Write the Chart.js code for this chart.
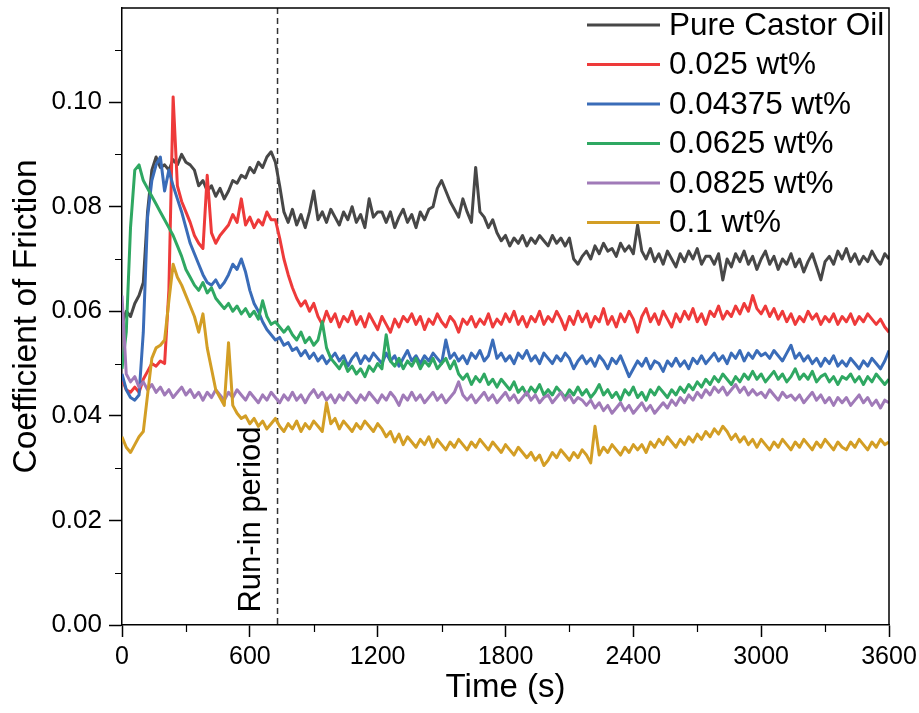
<!DOCTYPE html>
<html>
<head>
<meta charset="utf-8">
<script src="https://cdn.jsdelivr.net/npm/chart.js@4.4.1/dist/chart.umd.min.js"></script>
<style>
  html, body { margin: 0; padding: 0; background: #ffffff; }
  canvas { display: block; }
</style>
</head>
<body>
<canvas id="cof" width="919" height="713"></canvas>
<script>
// Coefficient of friction recorded every 20 s over a 3600 s test.
const sampleStep = 20;

const seriesLabels = ['Pure Castor Oil', '0.025 wt%', '0.04375 wt%', '0.0625 wt%', '0.0825 wt%', '0.1 wt%'];

const pureCastorOil = [
  0.0575, 0.0600, 0.0590, 0.0615, 0.0630, 0.0655, 0.0790, 0.0870, 0.0895, 0.0875,
  0.0880, 0.0870, 0.0890, 0.0880, 0.0900, 0.0885, 0.0880, 0.0870, 0.0840, 0.0850,
  0.0830, 0.0840, 0.0820, 0.0835, 0.0815, 0.0830, 0.0850, 0.0845, 0.0860, 0.0855,
  0.0875, 0.0865, 0.0885, 0.0875, 0.0895, 0.0905, 0.0885, 0.0840, 0.0790, 0.0770,
  0.0795, 0.0765, 0.0785, 0.0760, 0.0790, 0.0830, 0.0775, 0.0790, 0.0770, 0.0795,
  0.0780, 0.0765, 0.0790, 0.0775, 0.0800, 0.0770, 0.0785, 0.0760, 0.0815, 0.0780,
  0.0790, 0.0790, 0.0770, 0.0790, 0.0760, 0.0780, 0.0795, 0.0770, 0.0785, 0.0760,
  0.0790, 0.0775, 0.0795, 0.0800, 0.0835, 0.0850, 0.0830, 0.0810, 0.0795, 0.0780,
  0.0815, 0.0790, 0.0770, 0.0875, 0.0790, 0.0780, 0.0760, 0.0775, 0.0750, 0.0735,
  0.0745, 0.0725, 0.0740, 0.0730, 0.0745, 0.0725, 0.0740, 0.0730, 0.0745, 0.0735,
  0.0725, 0.0745, 0.0730, 0.0740, 0.0725, 0.0740, 0.0700, 0.0690, 0.0705, 0.0715,
  0.0700, 0.0725, 0.0710, 0.0730, 0.0715, 0.0720, 0.0705, 0.0730, 0.0715, 0.0725,
  0.0710, 0.0765, 0.0715, 0.0700, 0.0720, 0.0695, 0.0710, 0.0690, 0.0715, 0.0700,
  0.0685, 0.0710, 0.0695, 0.0715, 0.0700, 0.0720, 0.0690, 0.0705, 0.0705, 0.0690,
  0.0710, 0.0660, 0.0700, 0.0685, 0.0710, 0.0695, 0.0715, 0.0690, 0.0705, 0.0680,
  0.0700, 0.0715, 0.0690, 0.0705, 0.0680, 0.0700, 0.0690, 0.0710, 0.0685, 0.0700,
  0.0675, 0.0695, 0.0710, 0.0685, 0.0660, 0.0695, 0.0705, 0.0690, 0.0715, 0.0700,
  0.0720, 0.0695, 0.0710, 0.0690, 0.0705, 0.0695, 0.0715, 0.0700, 0.0690, 0.0710,
  0.0700
];

const wt0025 = [
  0.0470, 0.0450, 0.0445, 0.0455, 0.0445, 0.0470, 0.0485, 0.0500, 0.0495, 0.0505,
  0.0500, 0.0640, 0.1010, 0.0840, 0.0810, 0.0790, 0.0770, 0.0745, 0.0730, 0.0720,
  0.0860, 0.0750, 0.0730, 0.0745, 0.0755, 0.0765, 0.0785, 0.0770, 0.0815, 0.0765,
  0.0780, 0.0760, 0.0775, 0.0765, 0.0790, 0.0775, 0.0775, 0.0740, 0.0700, 0.0670,
  0.0645, 0.0625, 0.0610, 0.0620, 0.0600, 0.0615, 0.0590, 0.0575, 0.0600, 0.0580,
  0.0595, 0.0570, 0.0590, 0.0580, 0.0600, 0.0575, 0.0590, 0.0570, 0.0595, 0.0580,
  0.0565, 0.0590, 0.0575, 0.0560, 0.0585, 0.0570, 0.0590, 0.0580, 0.0595, 0.0575,
  0.0590, 0.0565, 0.0585, 0.0575, 0.0595, 0.0580, 0.0570, 0.0590, 0.0580, 0.0560,
  0.0585, 0.0575, 0.0590, 0.0570, 0.0585, 0.0575, 0.0595, 0.0570, 0.0585, 0.0575,
  0.0595, 0.0580, 0.0600, 0.0575, 0.0590, 0.0570, 0.0590, 0.0580, 0.0600, 0.0575,
  0.0590, 0.0580, 0.0600, 0.0585, 0.0565, 0.0590, 0.0575, 0.0600, 0.0580, 0.0595,
  0.0570, 0.0590, 0.0580, 0.0605, 0.0575, 0.0590, 0.0570, 0.0595, 0.0580, 0.0600,
  0.0585, 0.0560, 0.0590, 0.0605, 0.0580, 0.0595, 0.0575, 0.0600, 0.0585, 0.0570,
  0.0595, 0.0580, 0.0600, 0.0585, 0.0605, 0.0580, 0.0595, 0.0575, 0.0600, 0.0590,
  0.0610, 0.0585, 0.0600, 0.0590, 0.0610, 0.0595, 0.0615, 0.0600, 0.0630, 0.0605,
  0.0595, 0.0610, 0.0590, 0.0605, 0.0585, 0.0600, 0.0580, 0.0595, 0.0575, 0.0590,
  0.0580, 0.0600, 0.0585, 0.0595, 0.0575, 0.0590, 0.0580, 0.0595, 0.0575, 0.0590,
  0.0580, 0.0595, 0.0575, 0.0590, 0.0580, 0.0595, 0.0585, 0.0575, 0.0585, 0.0570,
  0.0560
];

const wt004375 = [
  0.0480, 0.0450, 0.0435, 0.0430, 0.0440, 0.0560, 0.0780, 0.0850, 0.0880, 0.0895,
  0.0830, 0.0870, 0.0840, 0.0815, 0.0790, 0.0760, 0.0730, 0.0710, 0.0690, 0.0670,
  0.0655, 0.0650, 0.0660, 0.0645, 0.0655, 0.0670, 0.0690, 0.0680, 0.0700, 0.0675,
  0.0640, 0.0615, 0.0600, 0.0580, 0.0565, 0.0555, 0.0545, 0.0550, 0.0535, 0.0540,
  0.0525, 0.0530, 0.0515, 0.0525, 0.0510, 0.0520, 0.0505, 0.0515, 0.0500, 0.0510,
  0.0520, 0.0505, 0.0515, 0.0495, 0.0510, 0.0520, 0.0500, 0.0515, 0.0505, 0.0520,
  0.0510, 0.0500, 0.0520, 0.0505, 0.0515, 0.0495, 0.0510, 0.0525, 0.0505, 0.0515,
  0.0500, 0.0515, 0.0505, 0.0520, 0.0510, 0.0500, 0.0545, 0.0510, 0.0520, 0.0505,
  0.0515, 0.0500, 0.0520, 0.0510, 0.0525, 0.0505, 0.0515, 0.0545, 0.0510, 0.0520,
  0.0505, 0.0515, 0.0500, 0.0520, 0.0510, 0.0525, 0.0505, 0.0515, 0.0500, 0.0520,
  0.0510, 0.0500, 0.0515, 0.0505, 0.0520, 0.0510, 0.0490, 0.0505, 0.0515, 0.0500,
  0.0510, 0.0495, 0.0515, 0.0505, 0.0490, 0.0510, 0.0500, 0.0515, 0.0495, 0.0475,
  0.0490, 0.0505, 0.0495, 0.0510, 0.0490, 0.0505, 0.0500, 0.0485, 0.0505, 0.0495,
  0.0510, 0.0495, 0.0505, 0.0490, 0.0510, 0.0500, 0.0515, 0.0500, 0.0510, 0.0520,
  0.0505, 0.0515, 0.0500, 0.0520, 0.0510, 0.0525, 0.0505, 0.0520, 0.0510, 0.0525,
  0.0515, 0.0520, 0.0510, 0.0525, 0.0515, 0.0505, 0.0520, 0.0535, 0.0510, 0.0520,
  0.0505, 0.0515, 0.0500, 0.0510, 0.0495, 0.0510, 0.0500, 0.0515, 0.0495, 0.0505,
  0.0495, 0.0510, 0.0500, 0.0490, 0.0505, 0.0495, 0.0510, 0.0500, 0.0490, 0.0505,
  0.0525
];

const wt00625 = [
  0.0490, 0.0560, 0.0760, 0.0870, 0.0880, 0.0850, 0.0835, 0.0820, 0.0805, 0.0790,
  0.0775, 0.0760, 0.0745, 0.0725, 0.0705, 0.0680, 0.0665, 0.0650, 0.0640, 0.0655,
  0.0635, 0.0645, 0.0625, 0.0615, 0.0605, 0.0615, 0.0600, 0.0610, 0.0595, 0.0605,
  0.0590, 0.0600, 0.0585, 0.0620, 0.0590, 0.0575, 0.0580, 0.0570, 0.0560, 0.0570,
  0.0555, 0.0545, 0.0560, 0.0540, 0.0550, 0.0535, 0.0545, 0.0580, 0.0530, 0.0510,
  0.0500, 0.0490, 0.0505, 0.0485, 0.0495, 0.0480, 0.0490, 0.0475, 0.0495, 0.0485,
  0.0500, 0.0490, 0.0555, 0.0505, 0.0495, 0.0510, 0.0490, 0.0505, 0.0495, 0.0510,
  0.0490, 0.0505, 0.0495, 0.0510, 0.0490, 0.0500, 0.0510, 0.0490, 0.0505, 0.0480,
  0.0470, 0.0480, 0.0460, 0.0475, 0.0465, 0.0480, 0.0460, 0.0470, 0.0455, 0.0470,
  0.0460, 0.0450, 0.0465, 0.0445, 0.0455, 0.0440, 0.0455, 0.0445, 0.0460, 0.0440,
  0.0450, 0.0440, 0.0455, 0.0445, 0.0435, 0.0450, 0.0440, 0.0455, 0.0440, 0.0450,
  0.0435, 0.0445, 0.0460, 0.0440, 0.0450, 0.0435, 0.0445, 0.0430, 0.0450, 0.0440,
  0.0455, 0.0435, 0.0445, 0.0430, 0.0450, 0.0440, 0.0455, 0.0445, 0.0435, 0.0450,
  0.0440, 0.0455, 0.0445, 0.0460, 0.0450, 0.0465, 0.0455, 0.0470, 0.0460, 0.0475,
  0.0465, 0.0480, 0.0470, 0.0460, 0.0475, 0.0465, 0.0480, 0.0470, 0.0485, 0.0470,
  0.0480, 0.0465, 0.0475, 0.0485, 0.0470, 0.0480, 0.0465, 0.0475, 0.0490, 0.0470,
  0.0480, 0.0470, 0.0485, 0.0465, 0.0475, 0.0480, 0.0465, 0.0475, 0.0460, 0.0475,
  0.0470, 0.0480, 0.0465, 0.0475, 0.0460, 0.0475, 0.0465, 0.0480, 0.0470, 0.0460,
  0.0470
];

const wt00825 = [
  0.0630, 0.0480, 0.0465, 0.0475, 0.0455, 0.0465, 0.0450, 0.0460, 0.0445, 0.0455,
  0.0440, 0.0450, 0.0435, 0.0445, 0.0455, 0.0440, 0.0450, 0.0435, 0.0445, 0.0430,
  0.0445, 0.0435, 0.0450, 0.0440, 0.0430, 0.0445, 0.0435, 0.0450, 0.0440, 0.0430,
  0.0445, 0.0435, 0.0425, 0.0440, 0.0430, 0.0445, 0.0435, 0.0425, 0.0440, 0.0430,
  0.0445, 0.0430, 0.0440, 0.0425, 0.0440, 0.0450, 0.0435, 0.0445, 0.0430, 0.0440,
  0.0425, 0.0440, 0.0430, 0.0445, 0.0435, 0.0425, 0.0440, 0.0430, 0.0445, 0.0435,
  0.0425, 0.0440, 0.0430, 0.0445, 0.0435, 0.0420, 0.0440, 0.0430, 0.0445, 0.0430,
  0.0440, 0.0425, 0.0435, 0.0445, 0.0430, 0.0440, 0.0425, 0.0435, 0.0445, 0.0465,
  0.0440, 0.0430, 0.0440, 0.0425, 0.0435, 0.0445, 0.0430, 0.0440, 0.0425, 0.0435,
  0.0445, 0.0430, 0.0440, 0.0425, 0.0435, 0.0445, 0.0430, 0.0440, 0.0425, 0.0435,
  0.0440, 0.0425, 0.0435, 0.0445, 0.0430, 0.0440, 0.0425, 0.0435, 0.0430, 0.0420,
  0.0430, 0.0415, 0.0425, 0.0410, 0.0420, 0.0405, 0.0415, 0.0425, 0.0410, 0.0420,
  0.0405, 0.0415, 0.0425, 0.0410, 0.0420, 0.0405, 0.0415, 0.0425, 0.0415, 0.0430,
  0.0420, 0.0435, 0.0425, 0.0440, 0.0430, 0.0445, 0.0435, 0.0450, 0.0440, 0.0455,
  0.0445, 0.0455, 0.0440, 0.0450, 0.0460, 0.0445, 0.0455, 0.0440, 0.0450, 0.0440,
  0.0445, 0.0435, 0.0450, 0.0440, 0.0430, 0.0445, 0.0435, 0.0440, 0.0430, 0.0440,
  0.0425, 0.0435, 0.0445, 0.0430, 0.0440, 0.0425, 0.0435, 0.0420, 0.0435, 0.0425,
  0.0435, 0.0420, 0.0430, 0.0440, 0.0425, 0.0435, 0.0420, 0.0430, 0.0415, 0.0430,
  0.0425
];

const wt01 = [
  0.0360, 0.0340, 0.0330, 0.0345, 0.0360, 0.0370, 0.0440, 0.0510, 0.0530, 0.0535,
  0.0545, 0.0620, 0.0690, 0.0665, 0.0650, 0.0630, 0.0610, 0.0590, 0.0560, 0.0595,
  0.0530, 0.0490, 0.0450, 0.0435, 0.0420, 0.0540, 0.0420, 0.0405, 0.0395, 0.0400,
  0.0385, 0.0395, 0.0380, 0.0390, 0.0375, 0.0385, 0.0395, 0.0380, 0.0370, 0.0385,
  0.0375, 0.0390, 0.0370, 0.0385, 0.0375, 0.0390, 0.0380, 0.0370, 0.0425, 0.0385,
  0.0395, 0.0375, 0.0390, 0.0380, 0.0370, 0.0385, 0.0375, 0.0390, 0.0380, 0.0370,
  0.0385, 0.0375, 0.0360, 0.0370, 0.0350, 0.0365, 0.0345, 0.0360, 0.0350, 0.0340,
  0.0355, 0.0345, 0.0360, 0.0340, 0.0355, 0.0345, 0.0335, 0.0350, 0.0340, 0.0355,
  0.0345, 0.0335, 0.0350, 0.0340, 0.0355, 0.0345, 0.0335, 0.0350, 0.0340, 0.0330,
  0.0345, 0.0335, 0.0325, 0.0340, 0.0330, 0.0320, 0.0330, 0.0315, 0.0325, 0.0305,
  0.0315, 0.0330, 0.0320, 0.0335, 0.0325, 0.0315, 0.0330, 0.0320, 0.0335, 0.0325,
  0.0310, 0.0380, 0.0325, 0.0340, 0.0330, 0.0345, 0.0335, 0.0325, 0.0340, 0.0330,
  0.0345, 0.0335, 0.0345, 0.0330, 0.0350, 0.0340, 0.0355, 0.0345, 0.0360, 0.0350,
  0.0340, 0.0355, 0.0345, 0.0360, 0.0350, 0.0365, 0.0355, 0.0370, 0.0360, 0.0375,
  0.0365, 0.0380, 0.0370, 0.0355, 0.0365, 0.0350, 0.0360, 0.0345, 0.0355, 0.0340,
  0.0355, 0.0345, 0.0335, 0.0350, 0.0340, 0.0355, 0.0345, 0.0335, 0.0350, 0.0340,
  0.0355, 0.0345, 0.0335, 0.0350, 0.0340, 0.0355, 0.0345, 0.0335, 0.0350, 0.0340,
  0.0335, 0.0350, 0.0340, 0.0355, 0.0345, 0.0335, 0.0350, 0.0340, 0.0355, 0.0345,
  0.0350
];

const xTickValues = [0, 600, 1200, 1800, 2400, 3000, 3600];
const xMinorValues = [300, 900, 1500, 2100, 2700, 3300];
const yTickValues = [0, 0.02, 0.04, 0.06, 0.08, 0.10];
const yMinorValues = [0.01, 0.03, 0.05, 0.07, 0.09, 0.11];
const runInEnd = 730; // s, end of the run-in period

const seriesValues = [pureCastorOil, wt0025, wt004375, wt00625, wt00825, wt01];
const seriesColors = ['#474747', '#ee3a3a', '#3a6cb8', '#2fa862', '#a07ab8', '#d39e25'];
const timeSec = pureCastorOil.map((_, i) => i * sampleStep);

const FONT = "'Liberation Sans', Arial, Helvetica, sans-serif";

const datasets = seriesValues.map((vals, k) => ({
  label: seriesLabels[k],
  data: vals.map((v, i) => ({ x: timeSec[i], y: v })),
  borderColor: seriesColors[k],
  backgroundColor: seriesColors[k],
  borderWidth: 3,
  borderJoinStyle: 'round',
  pointRadius: 0,
  tension: 0,
  fill: false,
  order: seriesValues.length - 1 - k
}));

// Frame, minor ticks, run-in marker and the legend
const decorations = {
  id: 'decorations',
  beforeDatasetsDraw(chart) {
    const { ctx, chartArea: a, scales } = chart;
    const x = scales.x.getPixelForValue(runInEnd);
    ctx.save();
    ctx.strokeStyle = '#333333';
    ctx.lineWidth = 1.5;
    ctx.setLineDash([6, 4]);
    ctx.beginPath();
    ctx.moveTo(x, a.top);
    ctx.lineTo(x, a.bottom);
    ctx.stroke();
    ctx.setLineDash([]);
    ctx.translate(x - 26, (a.top + a.bottom) / 2 + 203);
    ctx.rotate(-Math.PI / 2);
    ctx.fillStyle = '#000';
    ctx.font = '31px ' + FONT;
    ctx.textAlign = 'center';
    ctx.textBaseline = 'middle';
    ctx.fillText('Run-in period', 0, 0);
    ctx.restore();
  },
  afterDatasetsDraw(chart) {
    const { ctx, chartArea: a, scales } = chart;
    ctx.save();
    ctx.strokeStyle = '#000';
    ctx.lineWidth = 1.5;
    ctx.beginPath();
    ctx.moveTo(a.left, a.top);
    ctx.lineTo(a.right, a.top);
    ctx.lineTo(a.right, a.bottom);
    ctx.stroke();
    ctx.lineWidth = 1.2;
    ctx.beginPath();
    yMinorValues.forEach(v => {
      const y = Math.round(scales.y.getPixelForValue(v)) + 0.5;
      ctx.moveTo(a.left - 7, y);
      ctx.lineTo(a.left, y);
    });
    xMinorValues.forEach(v => {
      const x = Math.round(scales.x.getPixelForValue(v)) + 0.5;
      ctx.moveTo(x, a.bottom);
      ctx.lineTo(x, a.bottom + 7);
    });
    ctx.stroke();

    // legend
    ctx.font = '31.5px ' + FONT;
    ctx.textAlign = 'left';
    ctx.textBaseline = 'middle';
    chart.data.datasets.forEach((ds, k) => {
      const y = a.top + 17 + k * 39.5;
      const x0 = a.right - 302;
      ctx.strokeStyle = ds.borderColor;
      ctx.lineWidth = 3;
      ctx.beginPath();
      ctx.moveTo(x0, y);
      ctx.lineTo(x0 + 73, y);
      ctx.stroke();
      ctx.fillStyle = '#000';
      ctx.fillText(ds.label, x0 + 82, y + 1);
    });
    ctx.restore();
  }
};

new Chart(document.getElementById('cof'), {
  type: 'line',
  data: { datasets },
  options: {
    responsive: false,
    animation: false,
    devicePixelRatio: 1,
    layout: { padding: { top: 8, right: 30, left: 0, bottom: 0 } },
    plugins: { legend: { display: false }, tooltip: { enabled: false } },
    scales: {
      x: {
        type: 'linear',
        min: 0,
        max: 3600,
        afterFit: s => { s.height = 88; s.paddingLeft = 0; s.paddingRight = 0; },
        afterBuildTicks: s => { s.ticks = xTickValues.map(v => ({ value: v })); },
        ticks: {
          color: '#000',
          font: { family: FONT, size: 25 },
          padding: 5,
          maxRotation: 0,
          autoSkip: false,
          callback: v => String(v)
        },
        grid: { drawOnChartArea: false, tickLength: 12, tickWidth: 1.5, tickColor: '#000' },
        border: { display: true, color: '#000', width: 1.5 },
        title: {
          display: true,
          text: 'Time (s)',
          color: '#000',
          font: { family: FONT, size: 33 },
          padding: { top: 0, bottom: 5 }
        }
      },
      y: {
        min: 0,
        max: 0.118,
        afterFit: s => { s.width = 122; s.paddingTop = 0; s.paddingBottom = 0; },
        afterBuildTicks: s => { s.ticks = yTickValues.map(v => ({ value: v })); },
        ticks: {
          color: '#000',
          font: { family: FONT, size: 26 },
          padding: 7,
          callback: v => v.toFixed(2)
        },
        grid: { drawOnChartArea: false, tickLength: 13, tickWidth: 1.5, tickColor: '#000' },
        border: { display: true, color: '#000', width: 1.5 },
        title: {
          display: true,
          text: 'Coefficient of Friction',
          color: '#000',
          font: { family: FONT, size: 33.5 },
          padding: { top: 7, bottom: 0 }
        }
      }
    }
  },
  plugins: [decorations]
});
</script>
</body>
</html>
